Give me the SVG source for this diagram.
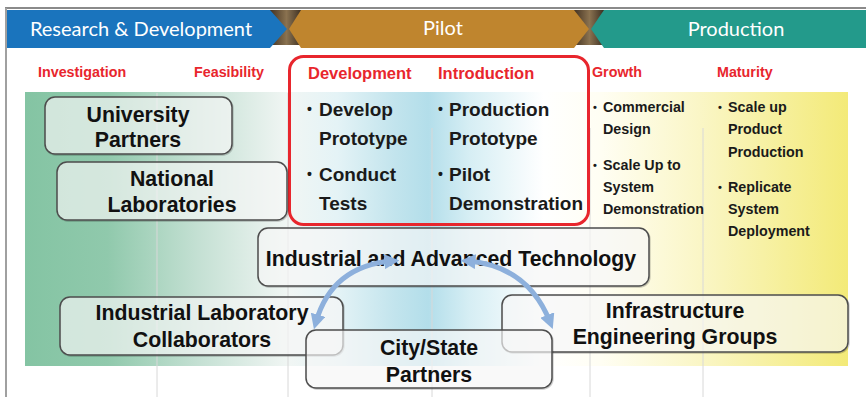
<svg xmlns="http://www.w3.org/2000/svg" width="866" height="397" viewBox="0 0 866 397">
  <defs>
    <linearGradient id="panelGrad" gradientUnits="userSpaceOnUse" x1="25" y1="0" x2="848" y2="0">
      <stop offset="0" stop-color="#84c4a3"/>
      <stop offset="0.1" stop-color="#90c9ac"/>
      <stop offset="0.21" stop-color="#c4e0d3"/>
      <stop offset="0.32" stop-color="#f1f6f4"/>
      <stop offset="0.38" stop-color="#e4f3f6"/>
      <stop offset="0.45" stop-color="#c2e4ed"/>
      <stop offset="0.49" stop-color="#b3deea"/>
      <stop offset="0.54" stop-color="#d6eef4"/>
      <stop offset="0.63" stop-color="#ffffff"/>
      <stop offset="0.70" stop-color="#fffef3"/>
      <stop offset="0.82" stop-color="#faf6c6"/>
      <stop offset="1" stop-color="#f3ea78"/>
    </linearGradient>
    <linearGradient id="darkGap" x1="0" y1="0" x2="1" y2="0">
      <stop offset="0" stop-color="#3a2a1c"/>
      <stop offset="0.5" stop-color="#8a7250"/>
      <stop offset="1" stop-color="#2a2018"/>
    </linearGradient>
    <filter id="nodeShadow" x="-5%" y="-10%" width="110%" height="125%">
      <feDropShadow dx="0.8" dy="1" stdDeviation="0.6" flood-color="#000" flood-opacity="0.22"/>
    </filter>
    <marker id="head" viewBox="0 0 10 10" refX="5" refY="5" markerWidth="15" markerHeight="15" markerUnits="userSpaceOnUse" orient="auto-start-reverse">
      <path d="M0,0 L10,5 L0,10 z" fill="#8db0dc"/>
    </marker>
    <style>
      .hdr { font-family: Lato, "Open Sans", sans-serif; font-size: 20px; fill: #ffffff; text-anchor: middle; }
      .phase { font-family: "Liberation Sans", Arial, sans-serif; font-weight: bold; font-size: 14.3px; fill: #e8262d; }
      .phaseBig { font-family: "Liberation Sans", Arial, sans-serif; font-weight: bold; font-size: 16.5px; fill: #e8262d; }
      .item { font-family: "Liberation Sans", Arial, sans-serif; font-weight: bold; font-size: 19px; fill: #1a1a1a; }
      .small { font-family: "Liberation Sans", Arial, sans-serif; font-weight: bold; font-size: 14.3px; fill: #1a1a1a; }
      .dot { font-family: "Liberation Sans", Arial, sans-serif; font-weight: bold; font-size: 14px; fill: #1a1a1a; }
      .dotSm { font-family: "Liberation Sans", Arial, sans-serif; font-weight: bold; font-size: 11px; fill: #1a1a1a; }
      .box { fill: #ffffff; fill-opacity: 0.62; stroke: #4d4d4d; stroke-width: 1.5; filter: url(#nodeShadow); }
      .label { font-family: "Liberation Sans", Arial, sans-serif; font-weight: bold; font-size: 21.3px; fill: #111111; text-anchor: middle; }
      .grid { stroke: #d8d8d8; stroke-width: 1; }
      .link { fill: none; stroke: #8db0dc; stroke-width: 5; marker-start: url(#head); marker-end: url(#head); }
    </style>
  </defs>

  <rect x="0" y="0" width="866" height="397" fill="#ffffff"/>

  <!-- outer frame -->
  <line x1="5" y1="8" x2="866" y2="8" stroke="#8a8a8a" stroke-width="2"/>
  <line x1="6" y1="8" x2="6" y2="397" stroke="#a0a0a0" stroke-width="2"/>

  <!-- stage banner -->
  <g id="banner">
    <rect x="268" y="10" width="37" height="35" fill="url(#darkGap)"/>
    <rect x="572" y="10" width="35" height="35" fill="url(#darkGap)"/>
    <polygon points="7,10 270,10 287,29 270,48 7,48" fill="#1a74bd"/>
    <polygon points="301,10 574,10 589,29 574,48 301,48 289,29" fill="#bf852e"/>
    <polygon points="604,10 866,10 866,48 604,48 591,29" fill="#239a8b"/>
    <text class="hdr" x="141" y="36">Research &amp; Development</text>
    <text class="hdr" x="443" y="35" fill="#f6ead2">Pilot</text>
    <text class="hdr" x="736" y="36">Production</text>
  </g>

  <!-- background band -->
  <rect x="25" y="92" width="823" height="274" fill="url(#panelGrad)"/>

  <!-- column rules -->
  <g id="columns">
    <line class="grid" x1="157" y1="93" x2="157" y2="397"/>
    <line class="grid" x1="288" y1="93" x2="288" y2="397"/>
    <line class="grid" x1="432" y1="128" x2="432" y2="397"/>
    <line class="grid" x1="590" y1="128" x2="590" y2="397"/>
    <line class="grid" x1="703" y1="128" x2="703" y2="397"/>
  </g>

  <!-- phase names -->
  <g id="phases">
    <text class="phase" x="38" y="77">Investigation</text>
    <text class="phase" x="194" y="77">Feasibility</text>
    <text class="phaseBig" x="308" y="79">Development</text>
    <text class="phaseBig" x="438" y="79">Introduction</text>
    <text class="phase" x="592" y="77">Growth</text>
    <text class="phase" x="717" y="77">Maturity</text>
  </g>

  <!-- pilot focus frame -->
  <g id="pilot-frame">
    <rect x="289.5" y="56.5" width="299" height="168" rx="14" fill="none" stroke="#e8262d" stroke-width="3"/>
    <text class="dot" x="307" y="114">•</text>
    <text class="item" x="319" y="116">Develop</text>
    <text class="item" x="319" y="145">Prototype</text>
    <text class="dot" x="307" y="179">•</text>
    <text class="item" x="319" y="181">Conduct</text>
    <text class="item" x="319" y="210">Tests</text>
    <text class="dot" x="438" y="114">•</text>
    <text class="item" x="449" y="116">Production</text>
    <text class="item" x="449" y="145">Prototype</text>
    <text class="dot" x="438" y="179">•</text>
    <text class="item" x="449" y="181">Pilot</text>
    <text class="item" x="449" y="210">Demonstration</text>
  </g>

  <!-- growth / maturity activities -->
  <g id="growth">
    <text class="dotSm" x="593" y="111">•</text>
    <text class="small" x="603" y="112">Commercial</text>
    <text class="small" x="603" y="134">Design</text>
    <text class="dotSm" x="593" y="169">•</text>
    <text class="small" x="603" y="170">Scale Up to</text>
    <text class="small" x="603" y="192">System</text>
    <text class="small" x="603" y="214">Demonstration</text>
  </g>
  <g id="maturity">
    <text class="dotSm" x="718" y="111">•</text>
    <text class="small" x="728" y="112">Scale up</text>
    <text class="small" x="728" y="134">Product</text>
    <text class="small" x="728" y="157">Production</text>
    <text class="dotSm" x="718" y="191">•</text>
    <text class="small" x="728" y="192">Replicate</text>
    <text class="small" x="728" y="214">System</text>
    <text class="small" x="728" y="236">Deployment</text>
  </g>

  <!-- partner nodes -->
  <g id="university-partners">
    <rect class="box" x="45" y="97" width="187" height="57" rx="10"/>
    <text class="label" x="138" y="122">University</text>
    <text class="label" x="138" y="147">Partners</text>
  </g>
  <g id="national-laboratories">
    <rect class="box" x="57" y="162" width="230" height="58" rx="10"/>
    <text class="label" x="172" y="186">National</text>
    <text class="label" x="172" y="212">Laboratories</text>
  </g>
  <g id="industrial-advanced-technology">
    <rect class="box" x="258" y="228" width="391" height="58" rx="10"/>
    <text class="label" x="451" y="266">Industrial and Advanced Technology</text>
  </g>
  <g id="industrial-laboratory-collaborators">
    <rect class="box" x="60" y="297" width="283" height="58" rx="10"/>
    <text class="label" x="202" y="320">Industrial Laboratory</text>
    <text class="label" x="202" y="347">Collaborators</text>
  </g>
  <g id="infrastructure-engineering-groups">
    <rect class="box" x="502" y="295" width="346" height="57" rx="10"/>
    <text class="label" x="675" y="318">Infrastructure</text>
    <text class="label" x="675" y="344">Engineering Groups</text>
  </g>
  <g id="city-state-partners">
    <rect class="box" x="306" y="330" width="246" height="58" rx="10"/>
    <text class="label" x="429" y="355">City/State</text>
    <text class="label" x="429" y="382">Partners</text>
  </g>

  <!-- connectors -->
  <g id="connectors">
    <path class="link" d="M392,261 Q332,266 316,322"/>
    <path class="link" d="M468,261 Q528,266 550,322"/>
  </g>
</svg>
